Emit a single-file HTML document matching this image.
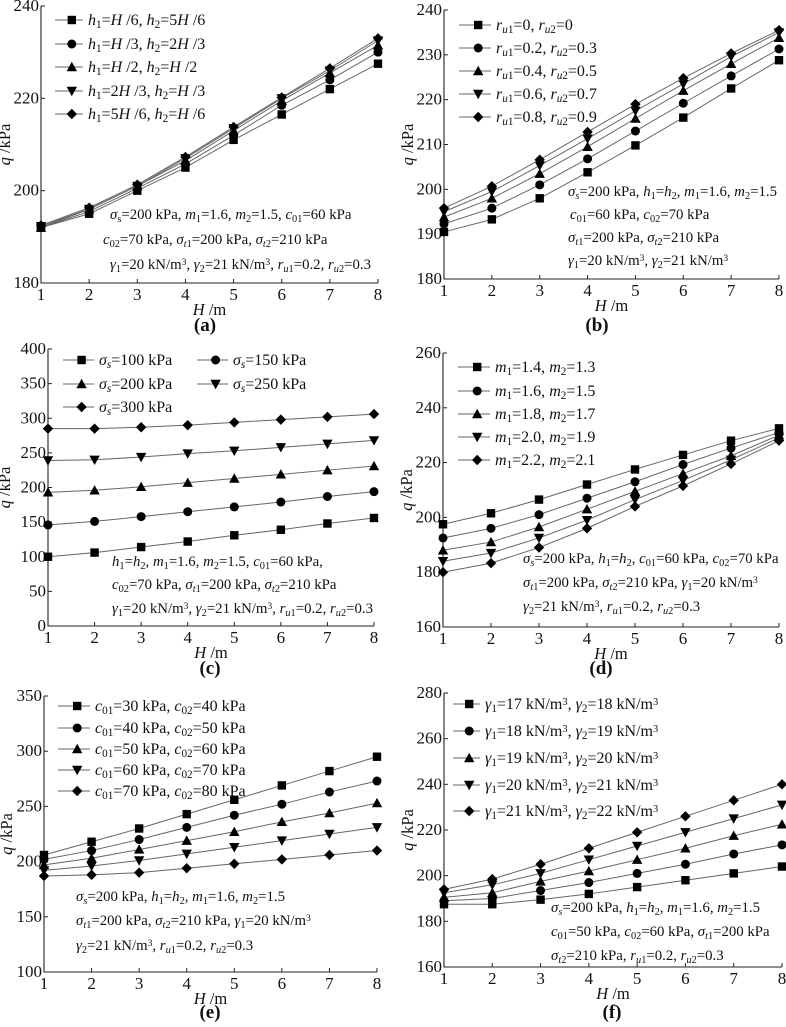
<!DOCTYPE html>
<html><head><meta charset="utf-8">
<style>
html,body{margin:0;padding:0;background:#fff;}
svg{display:block;font-family:"Liberation Serif",serif;}
</style></head>
<body>
<svg id="fig" width="786" height="1027" viewBox="0 0 786 1027" xmlns="http://www.w3.org/2000/svg"></svg>
<script>
const hValues = [1,2,3,4,5,6,7,8];
const xTicks = [1,2,3,4,5,6,7,8];

const aSeries1 = [192,195,200,205,211,216.5,222,227.5];
const aSeries2 = [192,195.5,200.5,205.8,212,218.5,224,230];
const aSeries3 = [192,196,201,206.5,213,219.5,225.5,231.5];
const aSeries4 = [192.3,196,201,207,213.5,220,226,232.5];
const aSeries5 = [192.5,196.3,201.3,207.3,213.8,220.2,226.5,233];
const aYTicks = [180,200,220,240];

const bSeries1 = [190.5,193.3,198,203.8,209.8,216,222.5,228.8];
const bSeries2 = [192.3,195.8,201,206.8,213,219.2,225.3,231.3];
const bSeries3 = [193.8,198,203.5,209.5,215.8,222,228,233.8];
const bSeries4 = [195,199.5,205.3,211.3,217.5,223.5,229.6,235];
const bSeries5 = [195.8,200.7,206.6,212.8,219,224.8,230.3,235.5];
const bYTicks = [180,190,200,210,220,230,240];

const cSeries1 = [100,106,114,122,131,139,148,156];
const cSeries2 = [146,151,158,165,172,179,187,194];
const cSeries3 = [193,196,201,207,213,219,225,231];
const cSeries4 = [239,240,244,249,253,258,263,268];
const cSeries5 = [285,285,287,290,294,298,302,306];
const cYTicks = [0,50,100,150,200,250,300,350,400];

const dSeries1 = [197.5,201.5,206.5,212,217.5,222.8,228,232.5];
const dSeries2 = [192.5,196,201,207,213,219.3,225.3,231];
const dSeries3 = [188,191,196.5,203,209.5,216,222.5,230];
const dSeries4 = [184,187,192.5,199,206.5,213.5,221,229];
const dSeries5 = [180,183.3,189,196,204,211.5,219.5,228];
const dYTicks = [160,180,200,220,240,260];

const eSeries1 = [206,218,230,243,256,269,282,295];
const eSeries2 = [202,210,220,231,242,252,263,273];
const eSeries3 = [197,203,211,219,227,236,244,253];
const eSeries4 = [192,196,201,207,213,219,225,231];
const eSeries5 = [187,188,190,194,198,202,206,210];
const eYTicks = [100,150,200,250,300,350];

const fSeries1 = [187.5,187.5,189.5,192,195,198,201,204];
const fSeries2 = [189,190,193.5,197,201,205,209.5,213.5];
const fSeries3 = [190.5,192.5,197.5,202,207,212,217.5,222.5];
const fSeries4 = [192.5,196,201,207,213,219,225,231];
const fSeries5 = [194,198.5,205,212,219,226,233,240];
const fYTicks = [160,180,200,220,240,260,280];

const markers = ['square','circle','up','down','diamond'];

const NS = 'http://www.w3.org/2000/svg';
const fig = document.getElementById('fig');

function fmt(s){
  s = s.replace(/_\{([^}]*)\}/g,'<tspan baseline-shift="-25%" font-size="70%">$1</tspan>');
  s = s.replace(/\^\{([^}]*)\}/g,'<tspan baseline-shift="45%" font-size="65%">$1</tspan>');
  s = s.replace(/\$([^$]*)\$/g,'<tspan font-style="italic">$1</tspan>');
  return s;
}
function el(tag, attrs, parent){
  const e = document.createElementNS(NS, tag);
  for (const k in attrs) e.setAttribute(k, attrs[k]);
  (parent||fig).appendChild(e);
  return e;
}
function marker(g, type, x, y){
  const r = 4.2;
  let m;
  if (type==='square') m = el('rect',{x:x-r,y:y-r,width:2*r,height:2*r,fill:'#000'},g);
  else if (type==='circle') m = el('circle',{cx:x,cy:y,r:r+0.3,fill:'#000'},g);
  else if (type==='up') m = el('polygon',{points:`${x},${y-r-1} ${x+r+1},${y+r} ${x-r-1},${y+r}`,fill:'#000'},g);
  else if (type==='down') m = el('polygon',{points:`${x},${y+r+1} ${x+r+1},${y-r} ${x-r-1},${y-r}`,fill:'#000'},g);
  else m = el('polygon',{points:`${x},${y-r-1} ${x+r+1},${y} ${x},${y+r+1} ${x-r-1},${y}`,fill:'#000'},g);
  
  
  return m;
}

function panel(p){
  const g = el('g',{});
  
  
  const xs = v => p.x0 + (v - 1) / 7 * (p.x1 - p.x0);
  const ys = v => p.yb + (v - p.ymin) / (p.ymax - p.ymin) * (p.yt - p.yb);
  const ax = el('path',{d:`M${p.x0},${p.yt} V${p.yb} H${p.x1}`,stroke:'#222','stroke-width':1.1,fill:'none'},g);
  
  
  xTicks.forEach(t=>{
    const x = xs(t);
    el('line',{x1:x,y1:p.yb,x2:x,y2:p.yb-4,stroke:'#222','stroke-width':1},g);
    const tx = el('text',{x:x,y:p.yb+17,'font-size':17,'text-anchor':'middle',fill:'#111'},g);
    tx.textContent = t;
    
    
  });
  p.yTicks.forEach(t=>{
    const y = ys(t);
    el('line',{x1:p.x0,y1:y,x2:p.x0+4,y2:y,stroke:'#222','stroke-width':1},g);
    const tx = el('text',{x:p.x0-2,y:y+5,'font-size':17,'text-anchor':'end',fill:'#111'},g);
    tx.textContent = t;
    
    
  });
  const xt = el('text',{x:(p.x0+p.x1)/2,y:p.yb+32,'font-size':16.5,'text-anchor':'middle',fill:'#111'},g);
  xt.innerHTML = fmt('$H$ /m');
  
  
  const ym = (p.yt+p.yb)/2;
  const yt = el('text',{x:p.x0-p.yTitleOff,y:ym,'font-size':16.5,'text-anchor':'middle',fill:'#111',transform:`rotate(-90 ${p.x0-p.yTitleOff} ${ym})`},g);
  yt.innerHTML = fmt('$q$ /kPa');
  
  
  p.series.forEach((s,i)=>{
    const sg = el('g',{},g);
    
    
    const pts = s.map((v,j)=>xs(hValues[j])+','+ys(v)).join(' ');
    el('polyline',{points:pts,fill:'none',stroke:'#666','stroke-width':1},sg);
    s.forEach((v,j)=>marker(sg, markers[i], xs(hValues[j]), ys(v)));
  });
  p.legend.forEach((L,i)=>{
    const lg = el('g',{},g);
    
    
    el('line',{x1:L.x,y1:L.y,x2:L.x+p.legLen,y2:L.y,stroke:'#666','stroke-width':1},lg);
    marker(lg, L.m, L.x+p.legLen*0.6, L.y);
    const t = el('text',{x:L.x+p.legLen+5,y:L.y+5,'font-size':16,fill:'#111'},lg);
    t.innerHTML = fmt(L.t);
  });
  p.notes.forEach(n=>{
    const t = el('text',{x:n.x,y:n.y+5,'font-size':14.8,fill:'#111'},g);
    t.innerHTML = fmt(n.t);
    
    
  });
  const lab = el('text',{x:p.labX,y:p.labY,'font-size':19,'font-weight':'bold','text-anchor':'middle',fill:'#111'},g);
  lab.textContent = '('+p.id+')';
  
  
}
function leg(x, ys, texts){ return texts.map((t,i)=>({x:x,y:ys[i],t:t,m:markers[i]})); }

panel({id:'a',x0:41,x1:378,yt:6,yb:283,ymin:180,ymax:240,yTicks:aYTicks,yTitleOff:31,
  series:[aSeries1,aSeries2,aSeries3,aSeries4,aSeries5],legLen:28,
  legend:leg(55,[20,44,67,91,114],['$h$_{1}=$H$ /6, $h$_{2}=5$H$ /6','$h$_{1}=$H$ /3, $h$_{2}=2$H$ /3','$h$_{1}=$H$ /2, $h$_{2}=$H$ /2','$h$_{1}=2$H$ /3, $h$_{2}=$H$ /3','$h$_{1}=5$H$ /6, $h$_{2}=$H$ /6']),
  notes:[{x:110,y:214,t:'$σ$_{s}=200 kPa, $m$_{1}=1.6, $m$_{2}=1.5, $c$_{01}=60 kPa'},{x:103,y:239,t:'$c$_{02}=70 kPa, $σ$_{$t$1}=200 kPa, $σ$_{$t$2}=210 kPa'},{x:110,y:264,t:'$γ$_{1}=20 kN/m^{3}, $γ$_{2}=21 kN/m^{3}, $r$_{$u$1}=0.2, $r$_{$u$2}=0.3'}],
  labX:205,labY:331});
panel({id:'b',x0:444,x1:779,yt:10,yb:279,ymin:180,ymax:240,yTicks:bYTicks,yTitleOff:31,
  series:[bSeries1,bSeries2,bSeries3,bSeries4,bSeries5],legLen:32,
  legend:leg(459,[25,48,71,94,117],['$r$_{$u$1}=0, $r$_{$u$2}=0','$r$_{$u$1}=0.2, $r$_{$u$2}=0.3','$r$_{$u$1}=0.4, $r$_{$u$2}=0.5','$r$_{$u$1}=0.6, $r$_{$u$2}=0.7','$r$_{$u$1}=0.8, $r$_{$u$2}=0.9']),
  notes:[{x:568,y:191,t:'$σ$_{$s$}=200 kPa, $h$_{1}=$h$_{2}, $m$_{1}=1.6, $m$_{2}=1.5'},{x:570,y:214,t:'$c$_{01}=60 kPa, $c$_{02}=70 kPa'},{x:568,y:237,t:'$σ$_{$t$1}=200 kPa, $σ$_{$t$2}=210 kPa'},{x:568,y:260,t:'$γ$_{1}=20 kN/m^{3}, $γ$_{2}=21 kN/m^{3}'}],
  labX:597,labY:331});
panel({id:'c',x0:48,x1:374,yt:349,yb:626,ymin:0,ymax:400,yTicks:cYTicks,yTitleOff:38,
  series:[cSeries1,cSeries2,cSeries3,cSeries4,cSeries5],legLen:31,
  legend:[{x:63,y:360,t:'$σ$_{$s$}=100 kPa',m:'square'},{x:197,y:360,t:'$σ$_{$s$}=150 kPa',m:'circle'},{x:63,y:384,t:'$σ$_{$s$}=200 kPa',m:'up'},{x:197,y:384,t:'$σ$_{$s$}=250 kPa',m:'down'},{x:63,y:407,t:'$σ$_{$s$}=300 kPa',m:'diamond'}],
  notes:[{x:112,y:561,t:'$h$_{1}=$h$_{2}, $m$_{1}=1.6, $m$_{2}=1.5, $c$_{01}=60 kPa,'},{x:112,y:584,t:'$c$_{02}=70 kPa, $σ$_{$t$1}=200 kPa, $σ$_{$t$2}=210 kPa'},{x:112,y:608,t:'$γ$_{1}=20 kN/m^{3}, $γ$_{2}=21 kN/m^{3}, $r$_{$u$1}=0.2, $r$_{$u$2}=0.3'}],
  labX:210,labY:674});
panel({id:'d',x0:443,x1:779,yt:353,yb:627,ymin:160,ymax:260,yTicks:dYTicks,yTitleOff:31,
  series:[dSeries1,dSeries2,dSeries3,dSeries4,dSeries5],legLen:32,
  legend:leg(458,[367,391,414,437,460],['$m$_{1}=1.4, $m$_{2}=1.3','$m$_{1}=1.6, $m$_{2}=1.5','$m$_{1}=1.8, $m$_{2}=1.7','$m$_{1}=2.0, $m$_{2}=1.9','$m$_{1}=2.2, $m$_{2}=2.1']),
  notes:[{x:523,y:558,t:'$σ$_{$s$}=200 kPa, $h$_{1}=$h$_{2}, $c$_{01}=60 kPa, $c$_{02}=70 kPa'},{x:523,y:582,t:'$σ$_{$t$1}=200 kPa, $σ$_{$t$2}=210 kPa, $γ$_{1}=20 kN/m^{3}'},{x:523,y:606,t:'$γ$_{2}=21 kN/m^{3}, $r$_{$u$1}=0.2, $r$_{$u$2}=0.3'}],
  labX:601,labY:674});
panel({id:'e',x0:44,x1:377,yt:696,yb:972,ymin:100,ymax:350,yTicks:eYTicks,yTitleOff:32,
  series:[eSeries1,eSeries2,eSeries3,eSeries4,eSeries5],legLen:32,
  legend:leg(58,[706,728,749,770,791],['$c$_{01}=30 kPa, $c$_{02}=40 kPa','$c$_{01}=40 kPa, $c$_{02}=50 kPa','$c$_{01}=50 kPa, $c$_{02}=60 kPa','$c$_{01}=60 kPa, $c$_{02}=70 kPa','$c$_{01}=70 kPa, $c$_{02}=80 kPa']),
  notes:[{x:76,y:896,t:'$σ$_{$s$}=200 kPa, $h$_{1}=$h$_{2}, $m$_{1}=1.6, $m$_{2}=1.5'},{x:76,y:920,t:'$σ$_{$t$1}=200 kPa, $σ$_{$t$2}=210 kPa, $γ$_{1}=20 kN/m^{3}'},{x:76,y:945,t:'$γ$_{2}=21 kN/m^{3}, $r$_{$u$1}=0.2, $r$_{$u$2}=0.3'}],
  labX:210,labY:1018});
panel({id:'f',x0:444,x1:782,yt:693,yb:967,ymin:160,ymax:280,yTicks:fYTicks,yTitleOff:31,
  series:[fSeries1,fSeries2,fSeries3,fSeries4,fSeries5],legLen:27,
  legend:leg(453,[704,731,758,785,811],['$γ$_{1}=17 kN/m^{3}, $γ$_{2}=18 kN/m^{3}','$γ$_{1}=18 kN/m^{3}, $γ$_{2}=19 kN/m^{3}','$γ$_{1}=19 kN/m^{3}, $γ$_{2}=20 kN/m^{3}','$γ$_{1}=20 kN/m^{3}, $γ$_{2}=21 kN/m^{3}','$γ$_{1}=21 kN/m^{3}, $γ$_{2}=22 kN/m^{3}']),
  notes:[{x:551,y:907,t:'$σ$_{$s$}=200 kPa, $h$_{1}=$h$_{2}, $m$_{1}=1.6, $m$_{2}=1.5'},{x:551,y:931,t:'$c$_{01}=50 kPa, $c$_{02}=60 kPa, $σ$_{$t$1}=200 kPa'},{x:551,y:955,t:'$σ$_{$t$2}=210 kPa, $r$_{$u$1}=0.2, $r$_{$u$2}=0.3'}],
  labX:612,labY:1018});
</script>
</body></html>
